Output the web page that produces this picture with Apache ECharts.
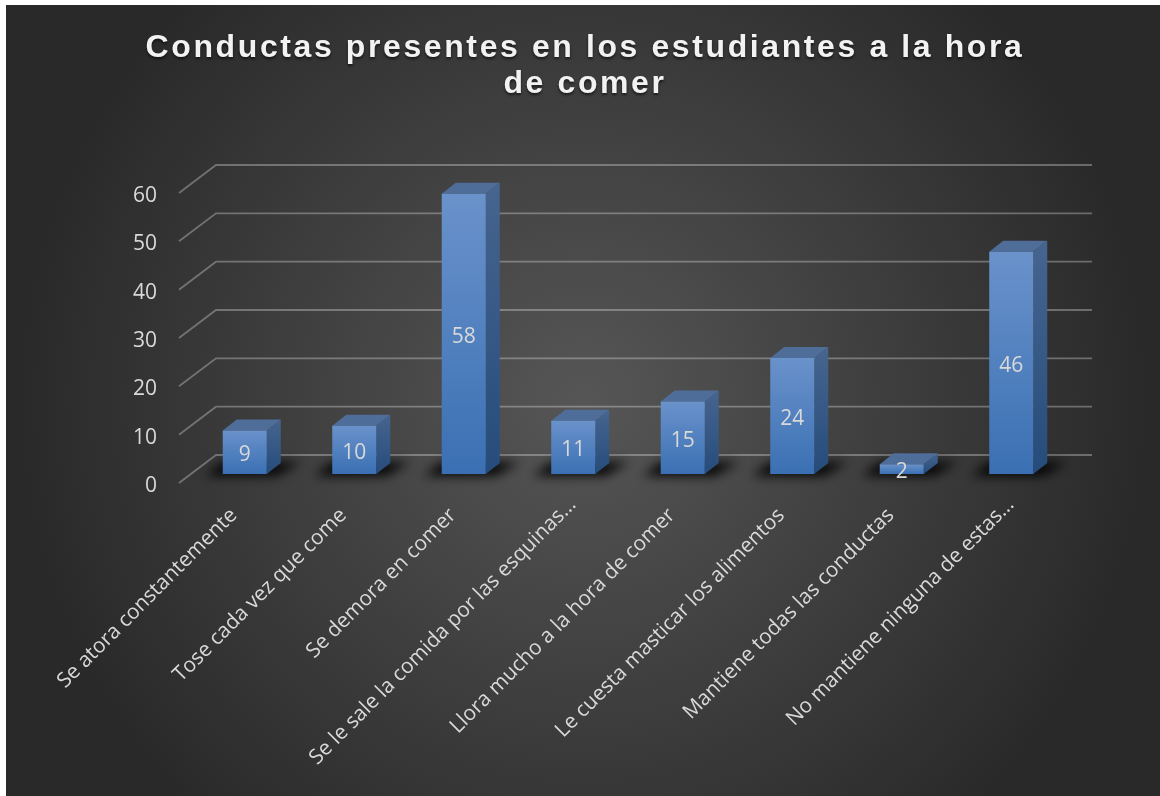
<!DOCTYPE html>
<html lang="es">
<head>
<meta charset="utf-8">
<title>Conductas presentes en los estudiantes a la hora de comer</title>
<style>
  html, body { margin: 0; padding: 0; background: #fff; }
  #chart { position: absolute; left: 6px; top: 5px; width: 1154px; height: 791px; }
</style>
<script src="https://cdn.jsdelivr.net/npm/echarts@6/dist/echarts.min.js"></script>
</head>
<body>
<div id="chart"></div>
<script>
const titleText = 'Conductas presentes en los estudiantes a la hora\nde comer';
const categories = [
  'Se atora constantemente',
  'Tose cada vez que come',
  'Se demora en comer',
  'Se le sale la comida por las esquinas…',
  'Llora mucho a la hora de comer',
  'Le cuesta masticar los alimentos',
  'Mantiene todas las conductas',
  'No mantiene ninguna de estas…'
];
const counts = [9, 10, 58, 11, 15, 24, 2, 46];
const yTicks = [0, 10, 20, 30, 40, 50, 60];

// Wide tracking on the bold title; canvas text has no option for it in the library.
const nativeFillText = CanvasRenderingContext2D.prototype.fillText;
CanvasRenderingContext2D.prototype.fillText = function (...args) {
  this.letterSpacing = this.font.startsWith('bold') ? '2.6px' : '0px';
  return nativeFillText.apply(this, args);
};

// Oblique projection: the floor recedes up and to the right of the front plane.
const FLOOR_DX = 37, FLOOR_DY = -28;   // full floor depth
const BAR_DX = 11, BAR_DY = -9;        // bar front face, measured from the front plane
const SIDE_DX = 14, SIDE_DY = -11;     // bar thickness
const BAR_RATIO = 0.402;
const SHADOW_SHIFT = 3000;             // caster sits off-canvas so only its blur is painted

const vertical = (a, b) => new echarts.graphic.LinearGradient(0, 0, 0, 1, [
  { offset: 0, color: a }, { offset: 1, color: b }
]);

// Shortened names hang further along their baseline than complete ones.
const categoryItems = categories.map(name => name.endsWith('…')
  ? { value: name, textStyle: { padding: [0, -15, 0, 0] } }
  : name);

function renderWallLine(params, api) {
  const cs = params.coordSys;
  const y = api.coord([0, api.value(0)])[1];
  const x0 = cs.x;
  return {
    type: 'polyline',
    silent: true,
    shape: { points: [[x0, y], [x0 + FLOOR_DX, y + FLOOR_DY], [x0 + cs.width + FLOOR_DX, y + FLOOR_DY]] },
    style: { fill: null, stroke: 'rgba(255,255,255,0.30)', lineWidth: 1.8 }
  };
}

function renderBar(params, api) {
  const top = api.coord([api.value(0), api.value(1)]);
  const base = api.coord([api.value(0), 0]);
  const w = api.size([1, 0])[0] * BAR_RATIO;
  const l = top[0] + BAR_DX - w / 2, r = l + w;
  const yTop = top[1] + BAR_DY, yBase = base[1] + BAR_DY;
  const s = SHADOW_SHIFT;
  return {
    type: 'group',
    children: [
      {
        type: 'polygon',
        silent: true,
        shape: { points: [[l - 18 - s, yBase + 2], [r + 10 - s, yBase + 2], [r + SIDE_DX + 20 - s, yBase - 12], [l + 0 - s, yBase - 12]] },
        style: { fill: '#000', shadowBlur: 11, shadowColor: 'rgba(0,0,0,0.9)', shadowOffsetX: s }
      },
      {
        type: 'polygon',
        shape: { points: [[r, yTop], [r + SIDE_DX, yTop + SIDE_DY], [r + SIDE_DX, yBase + SIDE_DY], [r, yBase]] },
        style: { fill: vertical('#46658f', '#264c7b') }
      },
      {
        type: 'polygon',
        shape: { points: [[l, yTop], [l + SIDE_DX, yTop + SIDE_DY], [r + SIDE_DX, yTop + SIDE_DY], [r, yTop]] },
        style: { fill: '#4f6d99' }
      },
      {
        type: 'rect',
        shape: { x: l, y: yTop, width: w, height: yBase - yTop },
        style: { fill: vertical('#6a92cb', '#3a70b3') }
      },
      {
        type: 'text',
        silent: true,
        style: {
          text: String(api.value(1)),
          x: (l + r) / 2,
          y: (yTop + yBase) / 2 + 3,
          align: 'center',
          verticalAlign: 'middle',
          fill: '#d9d9d9',
          font: '21px "Open Sans"'
        }
      }
    ]
  };
}

const chart = echarts.init(document.getElementById('chart'));
chart.setOption({
  animation: false,
  backgroundColor: {
    type: 'radial', x: 0.5, y: 0.5, r: 0.72,
    colorStops: [
      { offset: 0, color: '#565656' },
      { offset: 1, color: '#292929' }
    ]
  },
  title: {
    text: titleText,
    left: 574,
    top: 20,
    textAlign: 'center',
    textStyle: {
      color: '#f2f2f2',
      fontFamily: '"Liberation Sans"',
      fontWeight: 'bold',
      fontSize: 32,
      lineHeight: 36,
      textShadowColor: 'rgba(0,0,0,0.6)',
      textShadowBlur: 3,
      textShadowOffsetY: 2
    }
  },
  grid: { left: 173, top: 188, width: 876, height: 290 },
  xAxis: {
    type: 'category',
    data: categoryItems,
    axisLine: { show: false },
    axisTick: { show: false },
    axisLabel: {
      interval: 0,
      rotate: 45,
      margin: 29,
      color: '#d9d9d9',
      fontFamily: '"Open Sans"',
      fontSize: 20.8
    }
  },
  yAxis: {
    type: 'value',
    min: 0,
    max: 60,
    interval: 10,
    axisLine: { show: false },
    axisTick: { show: false },
    splitLine: { show: false },
    axisLabel: {
      margin: 22,
      verticalAlign: 'top',
      lineHeight: 6,
      color: '#d9d9d9',
      fontFamily: '"Open Sans"',
      fontSize: 21
    }
  },
  tooltip: { show: false },
  series: [
    {
      name: 'Cuadrícula',
      type: 'custom',
      clip: false,
      silent: true,
      data: yTicks.map(v => [v]),
      encode: { y: 0 },
      renderItem: renderWallLine,
      z: 1
    },
    {
      name: 'Estudiantes',
      type: 'custom',
      clip: false,
      data: counts.map((v, i) => [i, v]),
      encode: { x: 0, y: 1 },
      renderItem: renderBar,
      z: 2
    }
  ]
});
</script>
</body>
</html>
